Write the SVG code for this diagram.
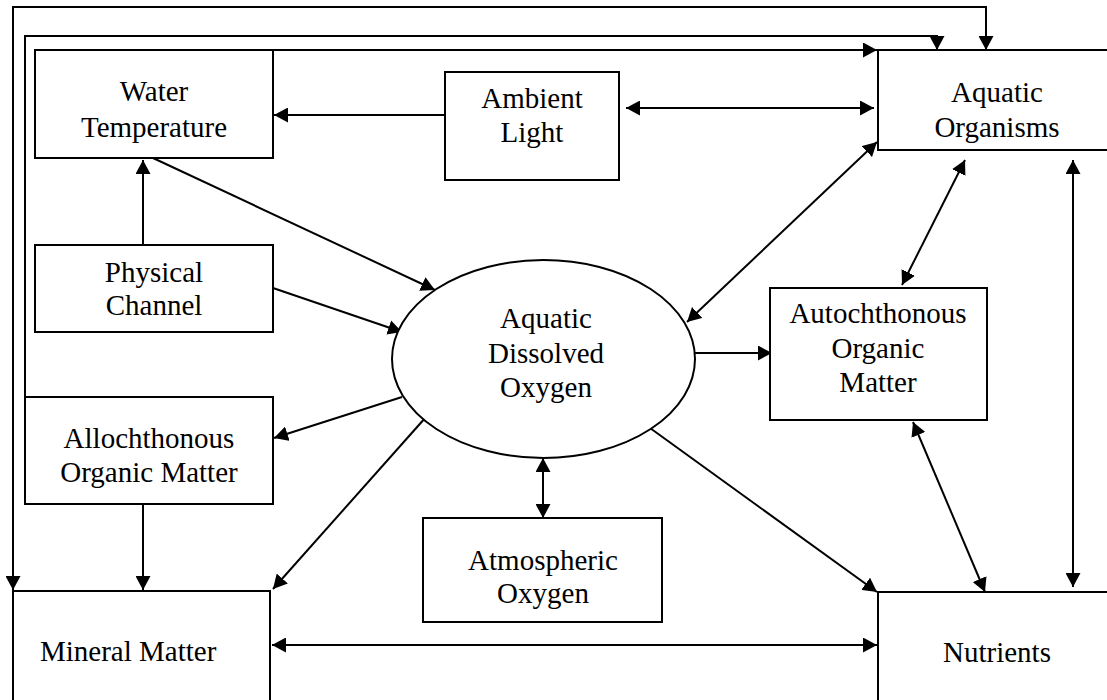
<svg xmlns="http://www.w3.org/2000/svg" width="1107" height="700" viewBox="0 0 1107 700">
<defs>
<marker id="ah" markerUnits="userSpaceOnUse" markerWidth="15" markerHeight="15" refX="14" refY="7.5" orient="auto-start-reverse">
<path d="M0,0 L14,7.5 L0,15 z" fill="#000"/>
</marker>
<style>
.box{fill:#fff;stroke:#000;stroke-width:2}
.ln{fill:none;stroke:#000;stroke-width:2}
.a{marker-end:url(#ah)}
.b{marker-start:url(#ah);marker-end:url(#ah)}
text{font-family:"Liberation Serif","Times New Roman",serif;font-size:29px;fill:#000;text-anchor:middle}
</style>
</defs>
<rect width="1107" height="700" fill="#fff"/>
<g id="connectors">
<path class="ln b" d="M13,590 L13,7 L986,7 L986,50"/>
<path class="ln a" d="M25,397 L25,36 L937,36 L937,50"/>
<path class="ln a" d="M273,50 L877,50"/>
<path class="ln a" d="M445,115 L274,115"/>
<path class="ln b" d="M626,108 L874,108"/>
<path class="ln a" d="M143,245 L143,160"/>
<path class="ln a" d="M153,158 L435,290"/>
<path class="ln a" d="M273,288 L402,332"/>
<path class="ln a" d="M402,397 L274,438"/>
<path class="ln a" d="M143,504 L143,590"/>
<path class="ln a" d="M426,417 L273,589"/>
<path class="ln b" d="M543,458 L543,518"/>
<path class="ln a" d="M650,428 L877,592"/>
<path class="ln a" d="M695,353 L772,353"/>
<path class="ln b" d="M687,322 L877,142"/>
<path class="ln b" d="M902,285 L965,160"/>
<path class="ln b" d="M913,422 L985,592"/>
<path class="ln b" d="M1073,160 L1073,587"/>
<path class="ln b" d="M272,645 L877,645"/>
</g>
<g id="water-temperature">
<rect class="box" x="35" y="50" width="238" height="108"/>
<text x="154" y="101">Water</text>
<text x="154" y="137">Temperature</text>
</g>
<g id="ambient-light">
<rect class="box" x="445" y="72" width="174" height="108"/>
<text x="532" y="108">Ambient</text>
<text x="532" y="142">Light</text>
</g>
<g id="aquatic-organisms">
<rect class="box" x="878" y="50" width="250" height="100"/>
<text x="997" y="102">Aquatic</text>
<text x="997" y="137">Organisms</text>
</g>
<g id="physical-channel">
<rect class="box" x="35" y="245" width="238" height="87"/>
<text x="154" y="282">Physical</text>
<text x="154" y="315">Channel</text>
</g>
<g id="aquatic-dissolved-oxygen">
<ellipse class="box" cx="543.5" cy="359" rx="151.5" ry="99"/>
<text x="546" y="328">Aquatic</text>
<text x="546" y="363">Dissolved</text>
<text x="546" y="397">Oxygen</text>
</g>
<g id="autochthonous-organic-matter">
<rect class="box" x="770" y="288" width="217" height="132"/>
<text x="878" y="323">Autochthonous</text>
<text x="878" y="358">Organic</text>
<text x="878" y="392">Matter</text>
</g>
<g id="allochthonous-organic-matter">
<rect class="box" x="25" y="397" width="248" height="107"/>
<text x="149" y="448">Allochthonous</text>
<text x="149" y="482">Organic Matter</text>
</g>
<g id="atmospheric-oxygen">
<rect class="box" x="423" y="518" width="239" height="104"/>
<text x="543" y="570">Atmospheric</text>
<text x="543" y="603">Oxygen</text>
</g>
<g id="mineral-matter">
<rect class="box" x="13" y="591" width="257" height="120"/>
<text x="40" y="661" style="text-anchor:start">Mineral Matter</text>
</g>
<g id="nutrients">
<rect class="box" x="878" y="592" width="250" height="120"/>
<text x="943" y="662" style="text-anchor:start">Nutrients</text>
</g>
</svg>
